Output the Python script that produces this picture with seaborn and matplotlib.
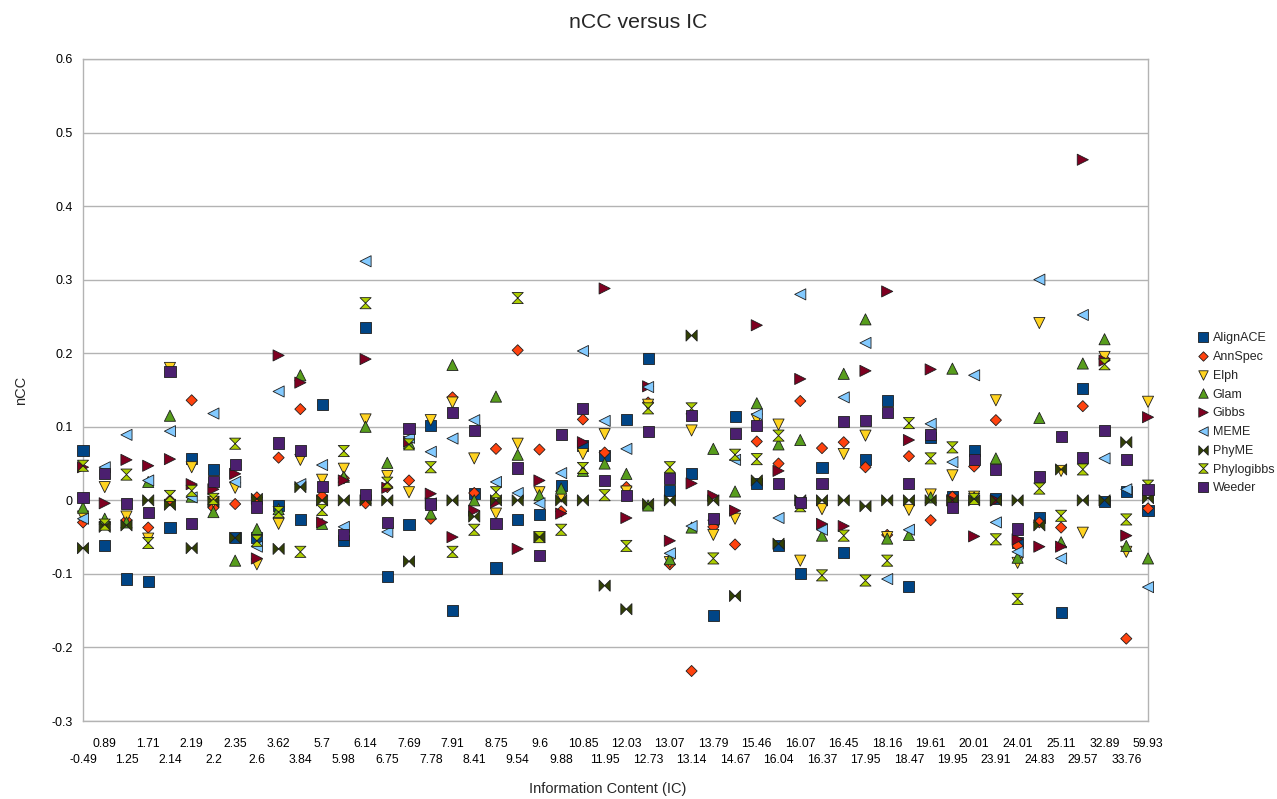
import numpy as np
import pandas as pd
import matplotlib
matplotlib.use("Agg")
import matplotlib.pyplot as plt
from matplotlib.path import Path
import seaborn as sns

# x categories (information content), in plot order
ic_labels = ["-0.49", "0.89", "1.25", "1.71", "2.14", "2.19", "2.2", "2.35", "2.6", "3.62",
             "3.84", "5.7", "5.98", "6.14", "6.75", "7.69", "7.78", "7.91", "8.41", "8.75",
             "9.54", "9.6", "9.88", "10.85", "11.95", "12.03", "12.73", "13.07", "13.14", "13.79",
             "14.67", "15.46", "16.04", "16.07", "16.37", "16.45", "17.95", "18.16", "18.47", "19.61",
             "19.95", "20.01", "23.91", "24.01", "24.83", "25.11", "29.57", "32.89", "33.76", "59.93"]

alignace = [0.068, -0.061, -0.107, -0.11, -0.037, 0.057, 0.042, -0.051, -0.051, -0.007,
            -0.026, 0.13, -0.055, 0.235, -0.104, -0.033, 0.102, -0.15, 0.009, -0.092,
            -0.026, -0.019, 0.02, 0.075, 0.061, 0.11, 0.193, 0.013, 0.037, -0.157,
            0.114, 0.023, -0.062, -0.099, 0.045, -0.071, 0.055, 0.136, -0.117, 0.086,
            0.005, 0.068, 0.002, -0.057, -0.023, -0.152, 0.152, -0.002, 0.012, -0.014]
annspec = [-0.03, -0.03, -0.027, -0.037, 0.0, 0.136, -0.01, -0.005, 0.004, 0.058,
           0.124, 0.006, 0.03, -0.004, 0.018, 0.027, -0.025, 0.14, 0.01, 0.07,
           0.204, 0.069, -0.015, 0.11, 0.065, 0.018, 0.133, -0.087, -0.232, -0.036,
           -0.06, 0.08, 0.05, 0.135, 0.071, 0.079, 0.045, -0.047, 0.06, -0.027,
           0.005, 0.046, 0.109, -0.062, -0.03, -0.037, 0.128, 0.192, -0.188, -0.011]
elph = [-0.022, 0.018, -0.022, -0.052, 0.18, 0.045, -0.002, 0.017, -0.087, -0.032,
        0.055, 0.028, 0.043, 0.11, 0.033, 0.011, 0.109, 0.133, 0.057, -0.018,
        0.077, 0.011, 0.005, 0.063, 0.09, 0.012, 0.13, -0.084, 0.095, -0.047,
        -0.025, 0.11, 0.103, -0.082, -0.012, 0.063, 0.088, -0.05, -0.013, 0.008,
        0.034, 0.005, 0.136, -0.085, 0.241, 0.04, -0.044, 0.195, -0.07, 0.134]
glam = [-0.01, -0.025, -0.03, 0.025, 0.115, 0.005, -0.016, -0.082, -0.039, -0.012,
        0.17, -0.032, 0.032, 0.1, 0.051, 0.078, -0.018, 0.184, 0.0, 0.141,
        0.062, 0.007, 0.016, 0.04, 0.05, 0.036, -0.007, -0.08, -0.037, 0.07,
        0.012, 0.132, 0.076, 0.082, -0.048, 0.172, 0.246, -0.052, -0.047, 0.004,
        0.179, 0.004, 0.057, -0.078, 0.112, -0.057, 0.186, 0.219, -0.062, -0.079]
gibbs = [0.045, -0.004, 0.055, 0.047, 0.056, 0.022, 0.015, 0.036, -0.079, 0.197,
         0.16, -0.03, 0.027, 0.192, 0.017, 0.08, 0.009, -0.05, -0.014, -0.003,
         -0.066, 0.027, -0.018, 0.079, 0.288, -0.024, 0.155, -0.055, 0.023, 0.006,
         -0.014, 0.238, 0.04, 0.165, -0.032, -0.035, 0.176, 0.284, 0.082, 0.178,
         0.0, -0.049, 0.0, -0.053, -0.063, -0.063, 0.463, 0.19, -0.048, 0.113]
meme = [-0.025, 0.045, 0.089, 0.027, 0.094, 0.004, 0.118, 0.025, -0.063, 0.148,
        0.022, 0.048, -0.036, 0.325, -0.043, 0.085, 0.066, 0.084, 0.109, 0.025,
        0.01, -0.004, 0.037, 0.203, 0.108, 0.07, 0.154, -0.072, -0.035, -0.027,
        0.055, 0.117, -0.024, 0.28, -0.04, 0.14, 0.214, -0.107, -0.04, 0.104,
        0.052, 0.17, -0.03, -0.07, 0.3, -0.079, 0.252, 0.057, 0.015, -0.118]
phyme = [-0.065, -0.036, -0.034, 0.0, -0.006, -0.065, -0.002, -0.051, 0.002, -0.066,
         0.018, 0.0, 0.0, 0.0, 0.0, -0.083, -0.004, 0.0, -0.022, 0.0,
         0.0, -0.05, 0.0, 0.0, -0.116, -0.148, -0.005, 0.0, 0.224, 0.0,
         -0.13, 0.027, -0.059, 0.0, 0.0, 0.0, -0.008, 0.0, 0.0, 0.0,
         0.0, 0.0, 0.0, 0.0, -0.034, 0.042, 0.0, 0.0, 0.079, 0.003]
phylogibbs = [0.047, -0.033, 0.035, -0.058, 0.006, 0.013, 0.002, 0.077, -0.055, -0.016,
              -0.07, -0.013, 0.067, 0.268, 0.024, 0.076, 0.045, -0.07, -0.04, 0.011,
              0.275, -0.05, -0.04, 0.044, 0.007, -0.062, 0.125, 0.045, 0.125, -0.079,
              0.062, 0.056, 0.088, -0.008, -0.102, -0.048, -0.109, -0.082, 0.105, 0.057,
              0.072, 0.002, -0.053, -0.134, 0.016, -0.021, 0.042, 0.185, -0.026, 0.02]
weeder = [0.004, 0.036, -0.004, -0.016, 0.175, -0.031, 0.025, 0.049, -0.009, 0.078,
          0.068, 0.019, -0.046, 0.008, -0.03, 0.098, -0.005, 0.12, 0.095, -0.032,
          0.044, -0.075, 0.09, 0.125, 0.027, 0.007, 0.094, 0.03, 0.115, -0.025,
          0.091, 0.102, 0.023, -0.003, 0.023, 0.107, 0.108, 0.119, 0.023, 0.09,
          -0.01, 0.055, 0.042, -0.039, 0.033, 0.087, 0.058, 0.095, 0.056, 0.015]

methods = ["AlignACE", "AnnSpec", "Elph", "Glam", "Gibbs", "MEME", "PhyME", "Phylogibbs", "Weeder"]
series = [alignace, annspec, elph, glam, gibbs, meme, phyme, phylogibbs, weeder]

colors = {"AlignACE": "#004586", "AnnSpec": "#ff420e", "Elph": "#ffd320", "Glam": "#579d1c",
          "Gibbs": "#7e0021", "MEME": "#83caff", "PhyME": "#314004", "Phylogibbs": "#aecf00",
          "Weeder": "#4b1f6f"}

# marker shapes like the office-suite symbols
square = Path([(-1, -1), (1, -1), (1, 1), (-1, 1), (-1, -1)], closed=True)
diamond = Path([(0, 1), (1, 0), (0, -1), (-1, 0), (0, 1)], closed=True)
tri_down = Path([(-1, 1), (1, 1), (0, -1), (-1, 1)], closed=True)
tri_up = Path([(0, 1), (-1, -1), (1, -1), (0, 1)], closed=True)
tri_right = Path([(-1, 1), (1, 0), (-1, -1), (-1, 1)], closed=True)
tri_left = Path([(1, 1), (-1, 0), (1, -1), (1, 1)], closed=True)
bowtie = Path([(-1, -1), (-1, 1), (0, 0), (1, 1), (1, -1), (0, 0), (-1, -1)], closed=True)
hourglass = Path([(-1, 1), (1, 1), (0, 0), (1, -1), (-1, -1), (0, 0), (-1, 1)], closed=True)
markers = {"AlignACE": square, "AnnSpec": diamond, "Elph": tri_down, "Glam": tri_up,
           "Gibbs": tri_right, "MEME": tri_left, "PhyME": bowtie, "Phylogibbs": hourglass,
           "Weeder": square}

rows = []
for m, vals in zip(methods, series):
    for lab, v in zip(ic_labels, vals):
        rows.append({"IC": lab, "nCC": v, "Method": m})
df = pd.DataFrame(rows)

sns.set_theme(style="white")
plt.rcParams["font.family"] = ["Liberation Sans", "DejaVu Sans"]
plt.rcParams["axes.unicode_minus"] = False

fig = plt.figure(figsize=(12.77, 7.99), dpi=100)
ax = fig.add_axes([0.065, 0.0976, 0.834, 0.8286])

sns.scatterplot(data=df, x="IC", y="nCC", hue="Method", style="Method",
                palette=colors, markers=markers, hue_order=methods, style_order=methods,
                s=64, edgecolor="#1e1e1e", linewidth=0.6, ax=ax, clip_on=False, zorder=3)

grid_c = "#b3b3b3"
ax.set_xlim(0, len(ic_labels) - 1)
ax.set_ylim(-0.3, 0.6)
yt = np.round(np.arange(-0.3, 0.61, 0.1), 1)
ax.set_yticks(yt, labels=[("0" if v == 0 else f"{v:g}") for v in yt])

# two staggered label rows: even positions low, odd positions high
pos = np.arange(len(ic_labels))
ax.set_xticks(pos[::2], labels=ic_labels[::2])
ax.set_xticks(pos[1::2], labels=ic_labels[1::2], minor=True)

ax.yaxis.grid(True, color=grid_c, linewidth=1.0)
ax.set_axisbelow(True)
for sp in ax.spines.values():
    sp.set_color(grid_c)
    sp.set_linewidth(1.0)
ax.tick_params(axis="both", which="both", direction="out", length=5, width=1,
               color=grid_c, labelcolor="black")
ax.tick_params(axis="x", which="major", pad=18.5, labelsize=8.7)
ax.tick_params(axis="x", which="minor", pad=7, labelsize=8.7)
ax.tick_params(axis="y", pad=2.5, labelsize=9)

ax.set_xlabel("Information Content (IC)", fontsize=10.5)
ax.set_ylabel("nCC", fontsize=10.5)
ax.xaxis.set_label_coords(0.493, -0.092)
ax.yaxis.set_label_coords(-0.052, 0.5)
fig.text(0.5, 1 - 22 / 799, "nCC versus IC", ha="center", va="center", fontsize=15.3)

handles, labels = ax.get_legend_handles_labels()
ax.legend(handles, labels, loc="upper left", bbox_to_anchor=(0.938, 0.584),
          bbox_transform=fig.transFigure, frameon=False, fontsize=9,
          markerscale=0.85, handlelength=0.8, handletextpad=0.4,
          labelspacing=0.54, borderpad=0, borderaxespad=0)

fig.savefig("out.png", dpi=100)
